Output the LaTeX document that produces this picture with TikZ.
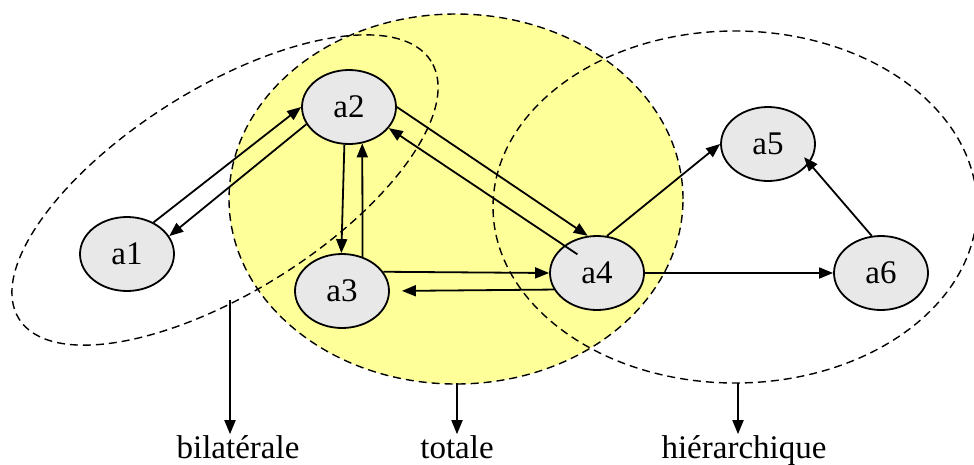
\documentclass[tikz,border=0pt]{standalone}
\usepackage{fontspec}
\setmainfont{Liberation Serif}
\usetikzlibrary{arrows.meta,shapes.geometric}
\definecolor{Lemon}{HTML}{FFFF99}
\definecolor{Mist}{HTML}{E8E8E8}

\begin{document}
\begin{tikzpicture}[x=1pt,y=-1pt, every node/.style={font=\fontsize{33}{36}\selectfont},
agent/.style={draw,ellipse,fill=Mist,minimum width=94pt,minimum height=74pt,inner sep=0pt},
zone/.style={draw,line width=1.4pt,dash pattern=on 8pt off 5pt},
zonename/.style={inner sep=0pt,anchor=base},
>={Triangle[length=14pt,width=11pt]}, line width=1.8pt]
\useasboundingbox (0,0) rectangle (974,464);
% the three groups
\fill[Lemon] (456,199) ellipse [x radius=227pt,y radius=185pt];
\draw[zone] (456,199) ellipse [x radius=227pt,y radius=185pt];
\draw[zone,rotate around={32:(225,190)}] (225,190) ellipse [x radius=243pt,y radius=102pt];
\draw[zone] (735,207) ellipse [x radius=242pt,y radius=176pt];
% agents
\node[agent] (a1) at (127,254) {a1};
\node[agent] (a2) at (349,107) {a2};
\node[agent] (a3) at (342,291) {a3};
\node[agent] (a4) at (597,273) {a4};
\node[agent] (a5) at (768,144) {a5};
\node[agent] (a6) at (881,273) {a6};
\draw[->] (a1.50)--(a2.180);\draw[->] (a2.202)--(a1.23);
\draw[->] (a2.263)--(a3.91);\draw[->] (a3.59)--(a2.290);
\draw[->] (a2.0)--(a4.104);\draw[->,shorten <=-16pt] (a4.140)--(a2.332);
\draw[->] (a3.25)--(a4.180);\draw[->,shorten >=12pt] (a4.201)--(a3.0);
\draw[->] (a4.75)--(a5.180);\draw[->] (a4.0)--(a6.180);
\draw[->,shorten >=-8pt] (a6.104)--(a5.-25);
% names of the groups
\node[zonename] (bil) at (238,458) {bilatérale};
\node[zonename] (tot) at (457,458) {totale};
\node[zonename] (hie) at (744,458) {hiérarchique};
\coordinate (bilfoot) at (230,300);
\coordinate (totfoot) at (457,383);
\coordinate (hiefoot) at (738,383);
\draw[->] (bilfoot)--(bilfoot |- bil.north);\draw[->] (totfoot)--(totfoot |- tot.north);
\draw[->] (hiefoot)--(hiefoot |- hie.north);
\end{tikzpicture}
\end{document}
